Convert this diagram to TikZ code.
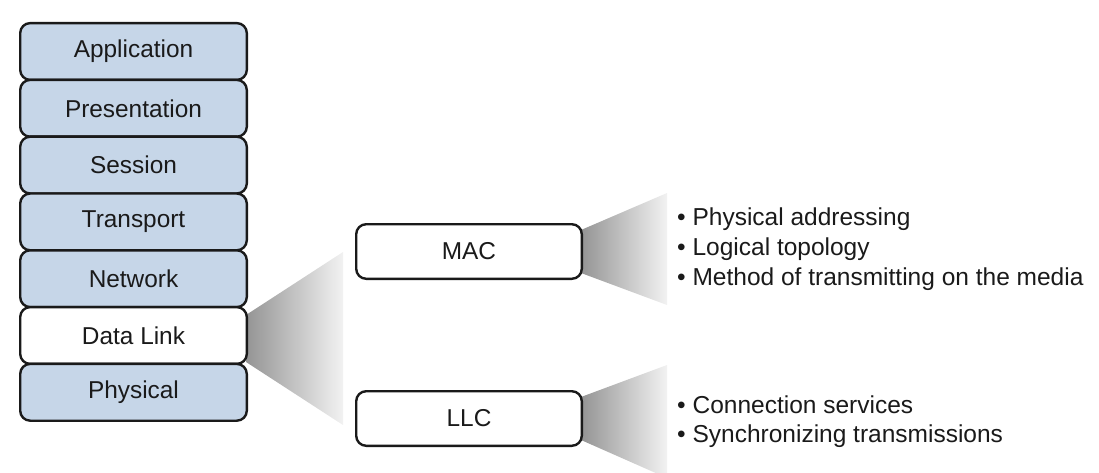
\documentclass[tikz,border=0pt]{standalone}
\usepackage{fontspec}
\setmainfont{Liberation Sans}
\usetikzlibrary{calc}
\definecolor{layerblue}{RGB}{198,214,232}
\definecolor{edge}{RGB}{26,26,26}
\tikzset{
  layer/.style={draw=edge, line width=2.4pt, rounded corners=10pt,
    minimum width=226.6pt, minimum height=56.8pt, inner sep=0pt,
    font=\fontsize{24.4}{28}\selectfont, text=edge},
  blue/.style={layer, fill=layerblue},
  sub/.style={layer, fill=white, minimum width=225.6pt, minimum height=54.6pt},
  item/.style={anchor=base west, inner sep=0pt, font=\fontsize{24.5}{28}\selectfont, text=edge},
  fan/.style={left color=black!42, right color=black!5}
}
\begin{document}
\begin{tikzpicture}[x=1pt,y=-1pt]
\useasboundingbox (0,0) rectangle (1099,473);
% fan shadings
\shade[fan] (246,315) -- (343,252) -- (343,425) -- (246,362) -- cycle;
\shade[fan] (581,230) -- (667,193) -- (667,305) -- (581,273) -- cycle;
\shade[fan] (581,397) -- (667,365) -- (667,478) -- (581,440) -- cycle;
% OSI stack
\node[blue] (app) at (133.5,51.5) {Application};
\node[blue] (pres) at (133.5,108.3) {Presentation};
\node[blue] (sess) at (133.5,165.1) {Session};
\node[blue] (trans) at (133.5,221.9) {Transport};
\node[blue] (net) at (133.5,278.7) {Network};
\node[layer, fill=white] (dl) at (133.5,335.5) {Data Link};
\node[blue] (phys) at (133.5,392.3) {Physical};
% sublayers
\node[sub] (mac) at (469,251.5) {MAC};
\node[sub] (llc) at (469,418.5) {LLC};
% items
\node[item] (m1) at (677,225.5) {\textbullet\ Physical addressing};
\node[item] (m2) at (677,255.3) {\textbullet\ Logical topology};
\node[item] (m3) at (677,285) {\textbullet\ Method of transmitting on the media};
\node[item] (l1) at (677,413) {\textbullet\ Connection services};
\node[item] (l2) at (677,442) {\textbullet\ Synchronizing transmissions};
\end{tikzpicture}
\end{document}
